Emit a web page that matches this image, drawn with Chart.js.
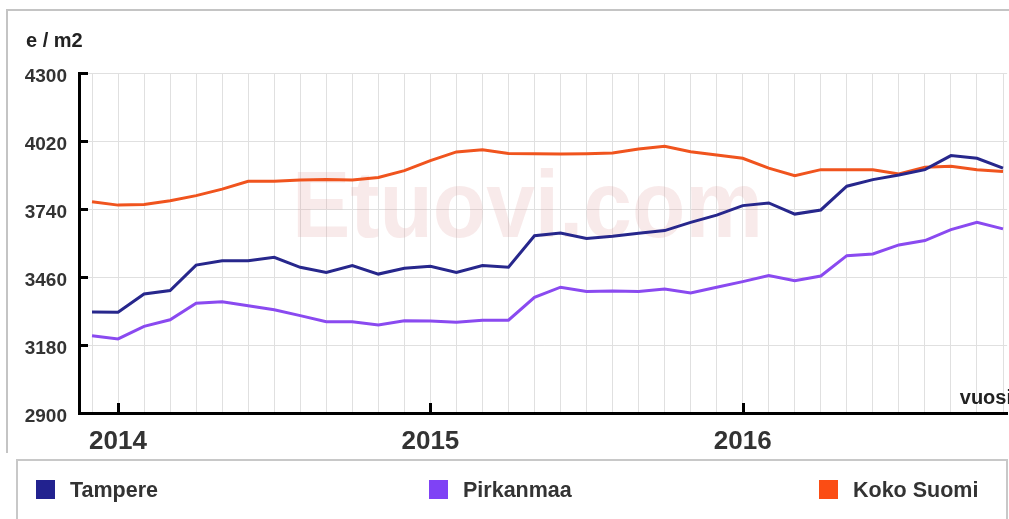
<!DOCTYPE html>
<html><head><meta charset="utf-8">
<script src="https://cdn.jsdelivr.net/npm/chart.js@4"></script>
<style>
html,body{margin:0;padding:0;background:#fff;width:1009px;height:519px;overflow:hidden;}
#wrap{position:relative;width:1009px;height:519px;overflow:hidden;}
#frame{position:absolute;left:6px;top:9px;width:1010px;height:442px;border-top:2px solid #c4c4c4;border-left:2px solid #c4c4c4;}
canvas{position:absolute;left:0;top:0;}
#legend{position:absolute;left:16px;top:459px;width:988px;height:80px;border:2px solid #c8c8c8;font:bold 21.5px "Liberation Sans",Arial,sans-serif;color:#333;}
.item{position:absolute;top:19px;height:20px;line-height:20px;white-space:nowrap;}
.sw{position:absolute;left:0;top:0;width:19px;height:19px;}
.lbl{position:absolute;left:34px;top:0;}
</style></head>
<body>
<div id="wrap">
  <div id="frame"></div>
  <canvas id="c" width="1016" height="519"></canvas>
  <div id="legend"></div>
</div>
<script>
const months = ['2013-12','2014-01','2014-02','2014-03','2014-04','2014-05','2014-06','2014-07','2014-08','2014-09','2014-10','2014-11','2014-12',
  '2015-01','2015-02','2015-03','2015-04','2015-05','2015-06','2015-07','2015-08','2015-09','2015-10','2015-11','2015-12',
  '2016-01','2016-02','2016-03','2016-04','2016-05','2016-06','2016-07','2016-08','2016-09','2016-10','2016-11'];
const yearLabels = ['2014','2015','2016'];
const yTicks = [2900,3180,3460,3740,4020,4300];
const tampere = [3316,3315,3390,3404,3509,3527,3527,3541,3500,3479,3507,3472,3496,3504,3479,3507,3500,3630,3641,3619,3628,3640,3651,3685,3715,3754,3765,3719,3736,3834,3861,3880,3902,3960,3949,3908];
const pirkanmaa = [3218,3205,3257,3284,3352,3358,3342,3325,3301,3276,3276,3262,3280,3279,3274,3282,3282,3376,3418,3400,3402,3400,3411,3394,3418,3441,3466,3445,3464,3548,3555,3592,3610,3655,3685,3658];
const kokoSuomi = [3770,3756,3759,3774,3795,3822,3854,3854,3859,3861,3859,3870,3898,3939,3975,3984,3969,3968,3966,3968,3971,3987,3998,3976,3962,3949,3908,3877,3902,3902,3902,3884,3912,3916,3902,3894];
const seriesNames = ['Tampere','Pirkanmaa','Koko Suomi'];
const yTitle = 'e / m2';
const xTitle = 'vuosi';
const watermark = 'Etuovi.com';

const colors = ['#27278c','#8a4af0','#f0541e'];
const swatchColors = ['#22228f','#7f42f5','#fb4d14'];
const FONT = '"Liberation Sans", Arial, sans-serif';

function isYearStart(m){ return m.endsWith('-01') && yearLabels.includes(m.slice(0,4)); }

const series = [tampere, pirkanmaa, kokoSuomi];
const datasets = series.map((arr, k) => ({
  label: seriesNames[k],
  data: arr.map((v, i) => ({x: i, y: v})),
  borderColor: colors[k],
  borderWidth: 3,
  pointRadius: 0,
  tension: 0,
  fill: false
}));

const decor = {
  id: 'decor',
  beforeDatasetsDraw(chart){
    const ctx = chart.ctx;
    ctx.save();
    ctx.font = 'bold 95px ' + FONT;
    ctx.fillStyle = 'rgba(220,150,150,0.2)';
    ctx.textAlign = 'left';
    ctx.textBaseline = 'alphabetic';
    ctx.fillText(watermark, 292, 237, 471);
    ctx.restore();
  },
  afterDraw(chart){
    const ctx = chart.ctx;
    const xs = chart.scales.x, ys = chart.scales.y;
    const a = chart.chartArea;
    ctx.save();
    ctx.strokeStyle = '#000';
    ctx.lineWidth = 3;
    yTicks.forEach(v => {
      const y = Math.round(ys.getPixelForValue(v)) + 0.5;
      ctx.beginPath(); ctx.moveTo(a.left - 1, y); ctx.lineTo(a.left + 9, y); ctx.stroke();
    });
    months.forEach((m, i) => {
      if (!isYearStart(m)) return;
      const x = Math.round(xs.getPixelForValue(i)) + 0.5;
      ctx.beginPath(); ctx.moveTo(x, a.bottom); ctx.lineTo(x, a.bottom - 10); ctx.stroke();
    });
    ctx.fillStyle = '#222';
    ctx.font = 'bold 20px ' + FONT;
    ctx.textAlign = 'left';
    ctx.textBaseline = 'middle';
    ctx.fillText(yTitle, 26, 41);
    ctx.font = 'bold 20px ' + FONT;
    ctx.textAlign = 'right';
    ctx.fillText(xTitle, 1012, 398);
    ctx.restore();
  }
};

new Chart(document.getElementById('c'), {
  type: 'line',
  data: { datasets },
  options: {
    responsive: false,
    animation: false,
    events: [],
    layout: { padding: { top: 73, left: 0, right: 0, bottom: 0 } },
    plugins: { legend: { display: false }, tooltip: { enabled: false } },
    scales: {
      x: {
        type: 'linear',
        min: -0.5,
        max: 35.16,
        afterBuildTicks(s){ s.ticks = months.map((m, i) => ({value: i})); },
        afterFit(s){ s.height = 106; },
        ticks: {
          autoSkip: false, maxRotation: 0, minRotation: 0,
          padding: 13,
          color: '#333',
          font: { family: FONT, size: 26, weight: 'bold' },
          callback(v){ const m = months[v]; return (m && isYearStart(m)) ? m.slice(0,4) : ''; }
        },
        grid: { color: '#e0e0e0', lineWidth: 1, drawTicks: false },
        border: { color: '#000', width: 3 }
      },
      y: {
        min: 2900, max: 4300,
        afterBuildTicks(s){ s.ticks = yTicks.map(v => ({value: v})); },
        afterFit(s){ s.width = 79; },
        ticks: {
          padding: 12,
          labelOffset: 4,
          color: '#333',
          font: { family: FONT, size: 19, weight: 'bold' },
          callback(v){ return String(v); }
        },
        grid: { color: '#e0e0e0', lineWidth: 1, drawTicks: false },
        border: { color: '#000', width: 3 }
      }
    }
  },
  plugins: [decor]
});

const lg = document.getElementById('legend');
const itemLeft = [18, 411, 801];
seriesNames.forEach((n, k) => {
  const it = document.createElement('div');
  it.className = 'item';
  it.style.left = itemLeft[k] + 'px';
  it.innerHTML = '<div class="sw" style="background:' + swatchColors[k] + '"></div><div class="lbl"></div>';
  it.querySelector('.lbl').textContent = n;
  lg.appendChild(it);
});
</script>
</body></html>
